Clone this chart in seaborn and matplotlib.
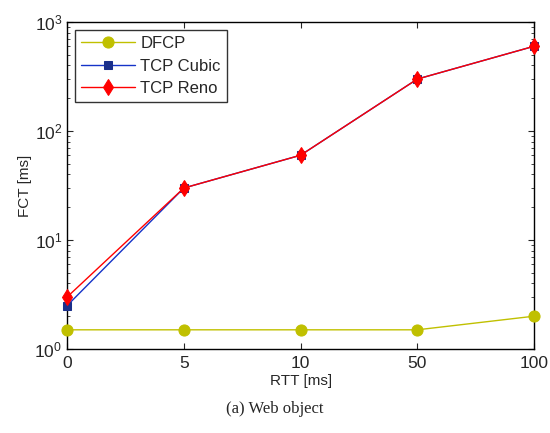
import numpy as np
import pandas as pd
import matplotlib
matplotlib.use("Agg")
import matplotlib.pyplot as plt
import seaborn as sns

rtt_labels = ["0", "5", "10", "50", "100"]
dfcp = [1.5, 1.5, 1.5, 1.5, 2.0]
tcp_cubic = [2.5, 30, 60, 300, 600]
tcp_reno = [3.0, 30, 60, 300, 600]

series = ["DFCP", "TCP Cubic", "TCP Reno"]
values = [dfcp, tcp_cubic, tcp_reno]
colors = {"DFCP": "#c0c000", "TCP Cubic": "#1533c8", "TCP Reno": "#ff0000"}
marker_colors = {"DFCP": "#c0c000", "TCP Cubic": "#1a2f8a", "TCP Reno": "#ff0000"}
markers = {"DFCP": "o", "TCP Cubic": "s", "TCP Reno": "d"}
msizes = {"DFCP": 8, "TCP Cubic": 6, "TCP Reno": 8.5}

rows = []
for name, vals in zip(series, values):
    for i, v in enumerate(vals):
        rows.append({"pos": i, "FCT": v, "series": name})
df = pd.DataFrame(rows)

sns.set_theme(style="ticks")
plt.rcParams["font.family"] = ["Liberation Sans", "DejaVu Sans"]
plt.rcParams["mathtext.fontset"] = "custom"
plt.rcParams["mathtext.rm"] = "Liberation Sans"

fig = plt.figure(figsize=(5.5, 4.33), dpi=100)
ax = fig.add_axes([0.122, 0.194, 0.849, 0.755])

for name in series:
    sub = df[df["series"] == name]
    sns.lineplot(data=sub, x="pos", y="FCT", ax=ax, color=colors[name],
                 linewidth=1.0, label=name, marker=markers[name],
                 markersize=msizes[name],
                 markerfacecolor=marker_colors[name],
                 markeredgecolor=marker_colors[name], zorder=3, clip_on=False)

ax.set_yscale("log")
ax.set_ylim(1, 1000)
ax.set_xlim(0, len(rtt_labels) - 1)
ax.set_xticks(range(len(rtt_labels)))
ax.set_xticklabels(rtt_labels)
ax.set_xlabel("RTT [ms]", fontsize=11, labelpad=2)
ax.set_ylabel("FCT [ms]", fontsize=11, labelpad=2)
ax.tick_params(axis="both", which="both", direction="in", top=True, right=True,
               labelsize=12.5)
ax.tick_params(axis="both", which="major", length=4, width=0.8)
ax.tick_params(axis="y", which="minor", length=2, width=0.6)
ax.tick_params(axis="x", pad=5)
for s in ax.spines.values():
    s.set_linewidth(1.0)
    s.set_color("black")
    s.set_visible(True)

leg = ax.legend(loc="upper left", fontsize=12, frameon=True, fancybox=False,
                edgecolor="black", borderaxespad=0.5, handlelength=3.2,
                labelspacing=0.45, borderpad=0.35, handletextpad=0.35)
leg.get_frame().set_linewidth(1.0)

fig.text(0.5, 0.055, "(a) Web object", ha="center", va="center",
         fontsize=12, family=["Liberation Serif", "DejaVu Serif"])

fig.savefig("out.png", dpi=100)
